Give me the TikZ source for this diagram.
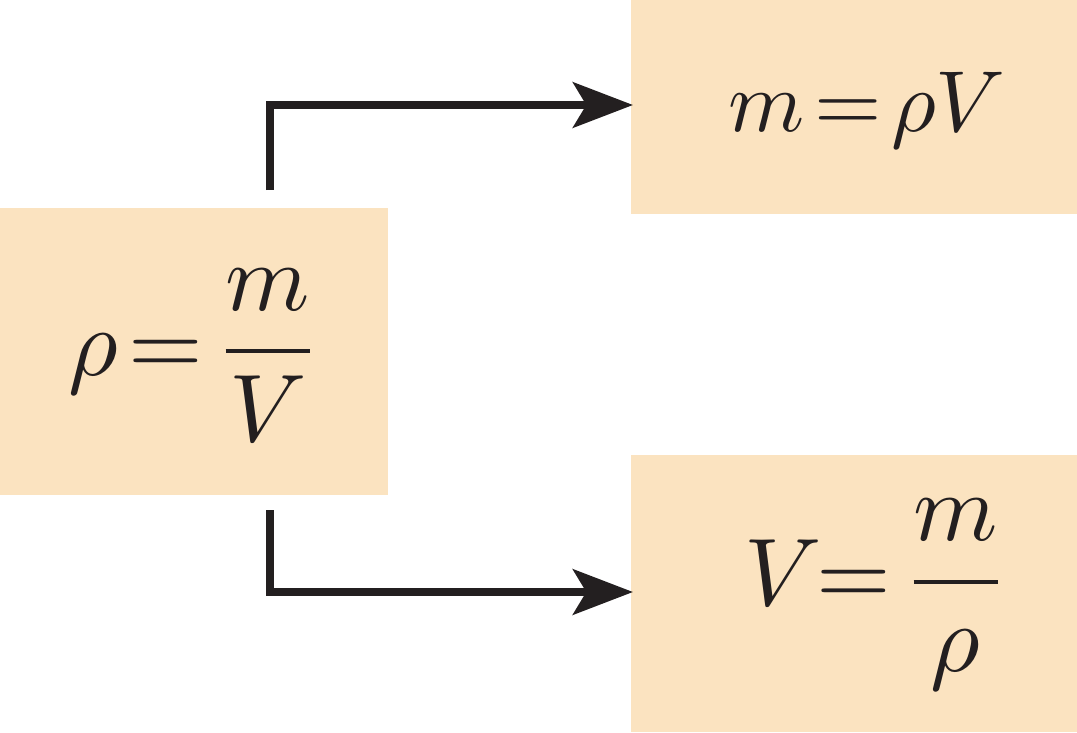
\documentclass[tikz,border=0pt]{standalone}
\usetikzlibrary{arrows.meta}
\definecolor{peach}{HTML}{FBE3C0}
\definecolor{ink}{HTML}{231F20}
\begin{document}
\begin{tikzpicture}[x=0.75pt,y=-0.75pt,
  box/.style={fill=peach,draw=none,inner sep=0},
  eq/.style={text=ink,inner sep=0},
  conn/.style={draw=ink,line width=6pt,-{Triangle[length=45pt,width=34pt,inset=10pt]}}]
\useasboundingbox (0,0) rectangle (1077,732);
\fill[peach] (0,208) rectangle (388,495);
\fill[peach] (631,0) rectangle (1077,214);
\fill[peach] (631,455) rectangle (1077,732);
\node[eq,scale=7.2] (a) at (195,355) {$\displaystyle\rho\!=\!\frac{m}{V}$};
\node[eq,scale=6.5] (b) at (867,110) {$m\!=\!\rho V$};
\node[eq,scale=7.2] (c) at (877,595) {$\displaystyle V\!\!=\!\frac{m}{\rho}$};
\coordinate (s1) at (270,190);
\coordinate (s2) at (270,510);
\coordinate (t1) at (633,105);
\coordinate (t2) at (633,592);
\draw[conn] (s1) |- (t1);
\draw[conn] (s2) |- (t2);
\end{tikzpicture}
\end{document}
